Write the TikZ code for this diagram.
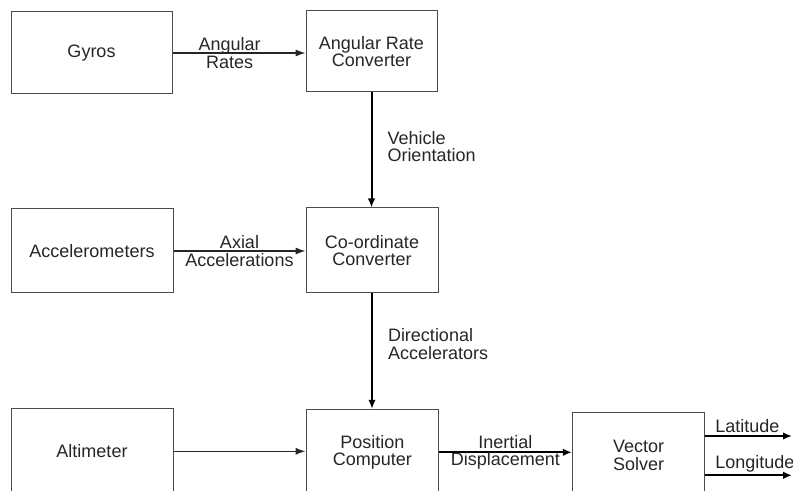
\documentclass[tikz,border=0pt]{standalone}
\usepackage{fontspec}
\setmainfont{Liberation Sans}
\usetikzlibrary{arrows.meta}

\begin{document}
\begin{tikzpicture}[x=0.5pt, y=-0.5pt,
  every node/.style={font=\fontsize{9}{8.8}\selectfont, text=black!85},
  blok/.style={draw=black!70, line width=0.5pt, minimum width=66pt, minimum height=42pt, align=center, inner sep=0pt},
  wideblok/.style={blok, minimum width=81pt},
  thinflow/.style={draw=black!85, line width=0.65pt, -{Latex[length=5pt, width=3.6pt]}},
  flow/.style={draw=black, line width=1pt, -{Latex[length=4.5pt, width=3.8pt]}},
  onflow/.style={align=center, inner sep=0pt},
  sideflow/.style={anchor=west, align=left, inner sep=0pt, xshift=7.5pt},
  outflow/.style={anchor=south west, inner sep=1pt, xshift=3.5pt}]
  \useasboundingbox (0,0) rectangle (793,491);
  \clip (0,0) rectangle (793,491);
  \node [wideblok, minimum width=80.5pt, minimum height=41pt] at (91.5,53) (gyros) {Gyros};
  \node [blok, minimum width=65.5pt, minimum height=40.5pt] at (371.5,51.5) (arc) {Angular Rate\\Converter};
  \node [wideblok] at (92,251) (accel) {Accelerometers};
  \node [blok, minimum height=42.5pt] at (372,250.5) (coord) {Co-ordinate\\Converter};
  \node [wideblok, minimum height=43pt] at (92,451.3) (alt) {Altimeter};
  \node [blok, minimum width=66.3pt, minimum height=43pt] at (372.3,452.3) (pos) {Position\\Computer};
  \node [blok, minimum width=66.3pt, minimum height=43pt] at (638.6,455.3) (vs) {Vector\\Solver};
  \coordinate (lat) at (792,436);
  \coordinate (long) at (792,475.3);
  \draw [thinflow] (gyros.east) -- node [onflow, pos=0.43] {Angular\\Rates} (gyros.east -| arc.west);
  \draw [thinflow] (accel.east) -- node [onflow] {Axial\\Accelerations} (accel.east -| coord.west);
  \draw [thinflow] (alt.east) -- (alt.east -| pos.west);
  \draw [flow] (arc.south) -- node [sideflow, pos=0.47] {Vehicle\\Orientation} (arc.south |- coord.north);
  \draw [flow] (coord.south) -- node [sideflow, pos=0.44] {Directional\\Accelerators} (coord.south |- pos.north);
  \draw [flow] (pos.east) -- node [onflow] {Inertial\\Displacement} (pos.east -| vs.west);
  \draw [flow] (vs.east |- lat) -- node [outflow, pos=0] {Latitude} (lat);
  \draw [flow] (vs.east |- long) -- node [outflow, pos=0] {Longitude} (long);
\end{tikzpicture}
\end{document}
